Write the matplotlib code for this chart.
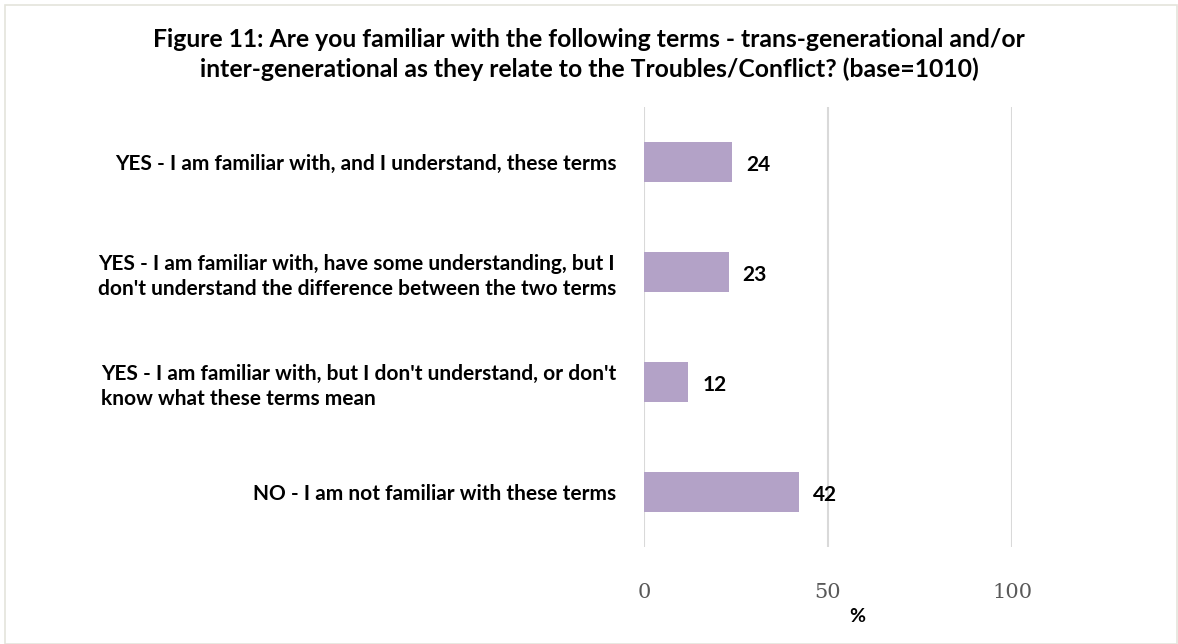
import matplotlib.pyplot as plt
from matplotlib.patches import Rectangle

categories = [
    "YES - I am familiar with, and I understand, these terms",
    "YES - I am familiar with, have some understanding, but I\ndon't understand the difference between the two terms",
    "YES - I am familiar with, but I don't understand, or don't\nknow what these terms mean",
    "NO - I am not familiar with these terms",
]
values = [24, 23, 12, 42]
ticks = [0, 50, 100]

TITLE = ("Figure 11: Are you familiar with the following terms - trans-generational and/or\n"
         "inter-generational as they relate to the Troubles/Conflict? (base=1010)")
BAR_COLOR = "#b3a2c7"
SANS = ["Lato", "DejaVu Sans"]

fig = plt.figure(figsize=(11.78, 6.44), dpi=100)
ax = fig.add_axes([0.5467, 0.1506, 0.3124, 0.6832])

y = list(range(len(categories)))
ax.barh(y, values, height=0.36, color=BAR_COLOR, zorder=3)
ax.set_ylim(len(categories) - 0.5, -0.5)
ax.set_xlim(0, 100)

for yi, v in zip(y, values):
    ax.text(v + 3.8, yi + 0.03, str(v), va="center", ha="left", fontsize=15,
            fontweight="bold", family=SANS, color="black")

ax.set_yticks(y)
ax.set_yticklabels(categories, fontsize=15, fontweight="bold", family=SANS,
                   multialignment="left", linespacing=1.3)
ax.tick_params(axis="y", length=0, pad=20)

ax.set_xticks(ticks)
ax.set_xticklabels([str(t) for t in ticks], fontsize=15, family="DejaVu Serif",
                   color="#595959")
ax.tick_params(axis="x", length=0, pad=26)
ax.xaxis.grid(True, color="#d9d9d9", linewidth=1.5, zorder=0)
ax.set_axisbelow(True)
for s in ax.spines.values():
    s.set_visible(False)

ax.set_xlabel("%", fontsize=14, fontweight="bold", family=SANS, labelpad=4)
ax.xaxis.label.set_x(0.579)

fig.text(0.5, 0.915, TITLE, ha="center", va="center", fontsize=17.8,
         fontweight="bold", family=SANS, linespacing=1.35)

# thin frame around the chart area
fig.patches.append(Rectangle((0.004, 0.0), 0.995, 0.992, transform=fig.transFigure,
                             fill=False, edgecolor="#e4e4dc", linewidth=1.2))

fig.savefig("out.png", dpi=100)
